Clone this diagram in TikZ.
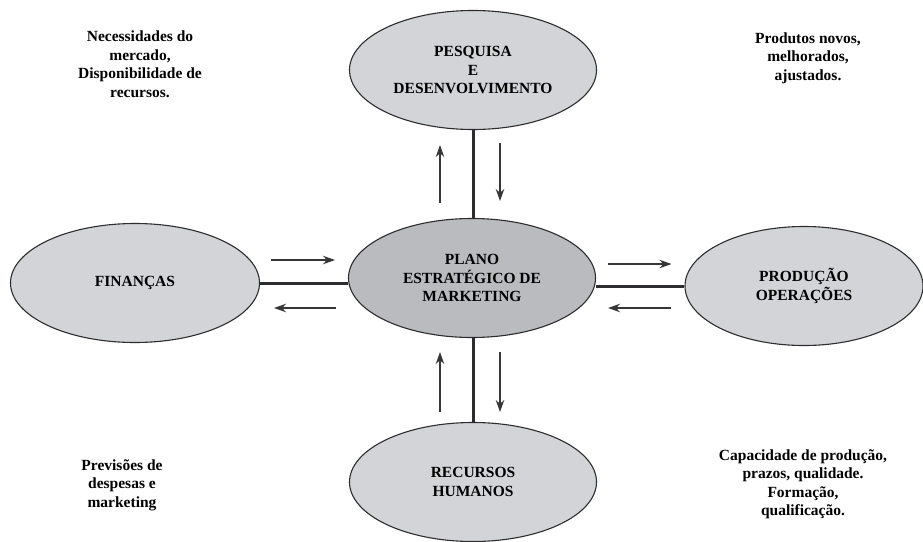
\documentclass[tikz,border=0pt]{standalone}
\usepackage{fontspec}
\setmainfont{Liberation Serif}
\usepackage{tikz}
\usetikzlibrary{shapes.geometric,arrows.meta,calc}
\definecolor{CinzaClaro}{RGB}{211,212,215}
\definecolor{CinzaMedio}{RGB}{186,187,191}
\definecolor{Contorno}{RGB}{45,45,48}
\definecolor{Seta}{RGB}{55,55,58}
\tikzset{
  area/.style={ellipse,draw=Contorno,line width=1.1pt,fill=CinzaClaro,
    minimum width=247pt,minimum height=119pt,inner sep=0pt,align=center,
    font=\fontsize{15.5}{18.5}\selectfont\bfseries},
  nota/.style={align=center,inner sep=0pt,font=\fontsize{15.5}{18.5}\selectfont\bfseries},
  ligacao/.style={line width=3pt,draw=Contorno},
  seta/.style={-{Stealth[length=12pt,width=8.5pt]},line width=1.4pt,draw=Seta}
}

\begin{document}
\begin{tikzpicture}[x=1pt,y=-1pt]
  \useasboundingbox[fill=white] (0,0) rectangle (923,541);
  % areas
  \node[area,fill=CinzaMedio] (plano) at (472,278) {PLANO\\ESTRATÉGICO DE\\MARKETING};
  \node[area] (pesquisa) at (473,70) {PESQUISA\\E\\DESENVOLVIMENTO};
  \node[area,minimum width=249pt] (financas) at (135,283) {FINANÇAS};
  \node[area,minimum width=238pt] (producao) at (804,286) {PRODUÇÃO\\OPERAÇÕES};
  \node[area] (recursos) at (473,482) {RECURSOS\\HUMANOS};
  % ligacoes
  \draw[ligacao] (pesquisa.south) -- (pesquisa.south |- plano.north);
  \draw[ligacao] (recursos.north) -- (recursos.north |- plano.south);
  \draw[ligacao] (financas.east) -- (financas.east -| plano.west);
  \draw[ligacao] (producao.west) -- (producao.west -| plano.east);
  % fluxos
  \draw[seta] ($(plano.north)+(-32,-15)$) -- ($(pesquisa.south)+(-33,15)$);
  \draw[seta] ($(pesquisa.south)+(27,13)$) -- ($(plano.north)+(28,-17)$);
  \draw[seta] ($(recursos.north)+(-33,-10)$) -- ($(plano.south)+(-32,14)$);
  \draw[seta] ($(plano.south)+(28,14)$) -- ($(recursos.north)+(27,-10)$);
  \draw[seta] ($(financas.east)+(11,-23)$) -- ($(plano.west)+(-13,-18)$);
  \draw[seta] ($(plano.west)+(-12,30)$) -- ($(financas.east)+(14,25)$);
  \draw[seta] ($(plano.east)+(12,-14)$) -- ($(producao.west)+(-13,-22)$);
  \draw[seta] ($(producao.west)+(-13,22)$) -- ($(plano.east)+(12,30)$);
  % notas
  \node[nota] (necessidades) at (140,64) {Necessidades do\\mercado,\\Disponibilidade de\\recursos.};
  \node[nota] (produtos) at (808,58) {Produtos novos,\\melhorados,\\ajustados.};
  \node[nota] (previsoes) at (122,485) {Previsões de\\despesas e\\marketing};
  \node[nota] (capacidade) at (803,484) {Capacidade de produção,\\prazos, qualidade.\\Formação,\\qualificação.};
\end{tikzpicture}
\end{document}
